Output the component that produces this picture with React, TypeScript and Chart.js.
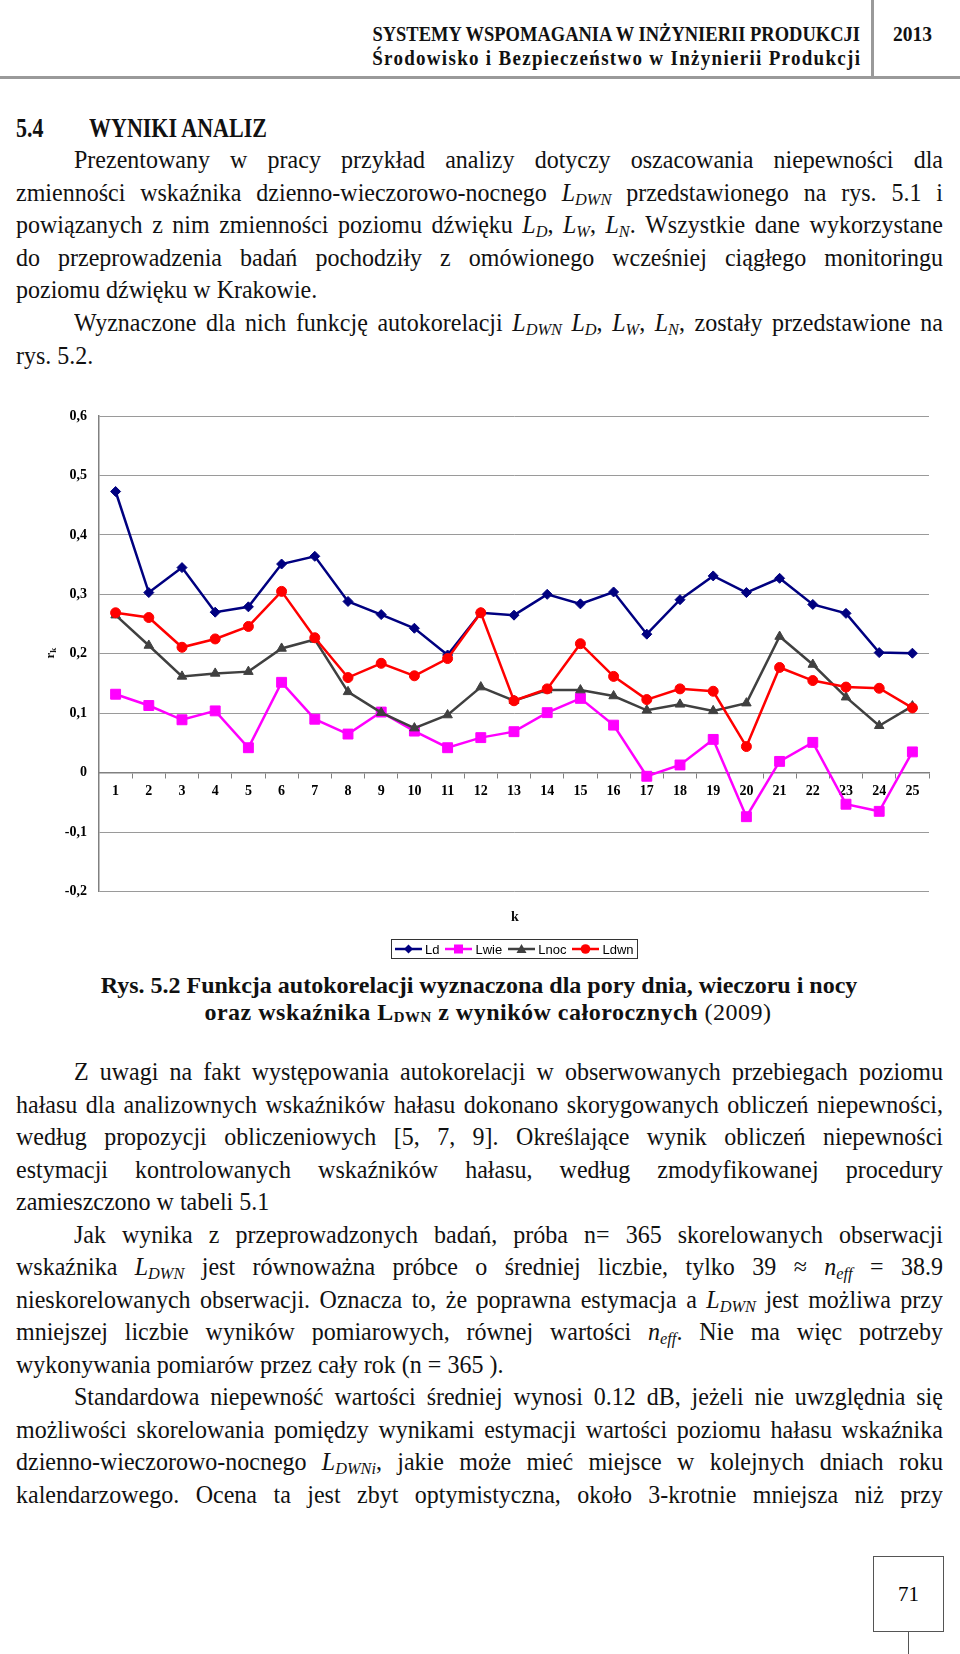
import { useEffect, useRef } from "react"
import { Chart, registerables } from "chart.js"

Chart.register(...registerables)

// dane z wykresu: autokorelacja r_k dla kolejnych opóźnień k
const lags = ["1", "2", "3", "4", "5", "6", "7", "8", "9", "10", "11", "12", "13", "14", "15", "16", "17", "18", "19", "20", "21", "22", "23", "24", "25"]
const ld = [0.473, 0.303, 0.345, 0.27, 0.279, 0.351, 0.364, 0.288, 0.266, 0.243, 0.198, 0.269, 0.265, 0.3, 0.284, 0.304, 0.233, 0.291, 0.331, 0.303, 0.327, 0.283, 0.268, 0.202, 0.201]
const lwie = [0.132, 0.113, 0.089, 0.104, 0.042, 0.152, 0.09, 0.065, 0.102, 0.07, 0.042, 0.059, 0.069, 0.101, 0.125, 0.08, -0.006, 0.013, 0.056, -0.074, 0.019, 0.051, -0.053, -0.065, 0.035]
const lnoc = [0.265, 0.214, 0.162, 0.167, 0.17, 0.209, 0.224, 0.136, 0.101, 0.075, 0.097, 0.144, 0.121, 0.139, 0.139, 0.129, 0.105, 0.115, 0.104, 0.117, 0.229, 0.182, 0.127, 0.079, 0.112]
const ldwn = [0.269, 0.261, 0.211, 0.225, 0.246, 0.305, 0.227, 0.16, 0.184, 0.163, 0.192, 0.269, 0.121, 0.141, 0.217, 0.162, 0.123, 0.141, 0.137, 0.044, 0.177, 0.155, 0.144, 0.142, 0.109]
const yTicks = [-0.2, -0.1, 0, 0.1, 0.2, 0.3, 0.4, 0.5, 0.6]

const seriesNames = ["Ld", "Lwie", "Lnoc", "Ldwn"]
const seriesColors = ["#000080", "#ff00ff", "#404040", "#ff0000"]

const serif = '"Liberation Serif", "Times New Roman", serif'

const topLines: [string, boolean, boolean][] = [
  ["Prezentowany w pracy przykład analizy dotyczy oszacowania niepewności dla", true, true],
  ["zmienności wskaźnika dzienno-wieczorowo-nocnego {L|DWN} przedstawionego na rys. 5.1 i", false, true],
  ["powiązanych z nim zmienności poziomu dźwięku {L|D}, {L|W}, {L|N}. Wszystkie dane wykorzystane", false, true],
  ["do przeprowadzenia badań pochodziły z omówionego wcześniej ciągłego monitoringu", false, true],
  ["poziomu dźwięku w Krakowie.", false, false],
  ["Wyznaczone dla nich funkcję autokorelacji {L|DWN} {L|D}, {L|W}, {L|N}, zostały przedstawione na", true, true],
  ["rys. 5.2.", false, false],
]

const bodyLines: [string, boolean, boolean][] = [
  ["Z uwagi na fakt występowania autokorelacji w obserwowanych przebiegach poziomu", true, true],
  ["hałasu dla analizownych wskaźników hałasu dokonano skorygowanych obliczeń niepewności,", false, true],
  ["według propozycji obliczeniowych [5, 7, 9]. Określające wynik obliczeń niepewności", false, true],
  ["estymacji kontrolowanych wskaźników hałasu, według zmodyfikowanej procedury", false, true],
  ["zamieszczono w tabeli 5.1", false, false],
  ["Jak wynika z przeprowadzonych badań, próba n= 365 skorelowanych obserwacji", true, true],
  ["wskaźnika {L|DWN} jest równoważna próbce o średniej liczbie, tylko 39 ≈ {n|eff} = 38.9", false, true],
  ["nieskorelowanych obserwacji. Oznacza to, że poprawna estymacja a {L|DWN} jest możliwa przy", false, true],
  ["mniejszej liczbie wyników pomiarowych, równej wartości {n|eff}. Nie ma więc potrzeby", false, true],
  ["wykonywania pomiarów przez cały rok (n = 365 ).", false, false],
  ["Standardowa niepewność wartości średniej wynosi 0.12 dB, jeżeli nie uwzględnia się", true, true],
  ["możliwości skorelowania pomiędzy wynikami estymacji wartości poziomu hałasu wskaźnika", false, true],
  ["dzienno-wieczorowo-nocnego {L|DWNi}, jakie może mieć miejsce w kolejnych dniach roku", false, true],
  ["kalendarzowego. Ocena ta jest zbyt optymistyczna, około 3-krotnie mniejsza niż przy", false, true],
]

function rich(text: string) {
  return text.split(/(\{[^}]+\})/).map((p, i) => {
    const m = p.match(/^\{([^|]+)\|([^}]+)\}$/)
    if (m)
      return (
        <i key={i}>
          {m[1]}
          <sub style={{ fontSize: "0.68em", verticalAlign: "-0.25em", lineHeight: 0 }}>{m[2]}</sub>
        </i>
      )
    return p
  })
}

function TextLine({ text, top, indent, justify }: { text: string; top: number; indent: boolean; justify: boolean }) {
  const left = indent ? 74 : 16
  const base: React.CSSProperties = {
    position: "absolute",
    left,
    top,
    width: 943 - left,
    height: 32.5,
    lineHeight: "32.5px",
    whiteSpace: "nowrap",
    transform: "scaleY(1.05)",
    transformOrigin: "0 24px",
  }
  if (!justify) return <div style={base}>{rich(text)}</div>
  return (
    <div style={{ ...base, display: "flex", justifyContent: "space-between" }}>
      {text.split(" ").map((w, i) => (
        <span key={i}>{rich(w)}</span>
      ))}
    </div>
  )
}

function LegendMark({ i }: { i: number }) {
  const c = seriesColors[i]
  return (
    <svg width={27} height={12} style={{ display: "block" }}>
      <line x1={0} y1={6} x2={27} y2={6} stroke={c} strokeWidth={2.5} />
      {i === 0 && <polygon points="13.5,1.5 18,6 13.5,10.5 9,6" fill={c} />}
      {i === 1 && <rect x={9} y={1.5} width={9} height={9} fill={c} />}
      {i === 2 && <polygon points="13.5,1 18.5,10 8.5,10" fill={c} />}
      {i === 3 && <circle cx={13.5} cy={6} r={4.8} fill={c} />}
    </svg>
  )
}

function AutocorrChart() {
  const chartRef = useRef<HTMLCanvasElement>(null)

  useEffect(() => {
    if (!chartRef.current) return
    const tickFont = { family: serif, size: 14, weight: "bold" as const }
    const styles = [
      { pointStyle: "rectRot", pointRadius: 5 },
      { pointStyle: "rect", pointRadius: 7 },
      { pointStyle: "triangle", pointRadius: 5.5 },
      { pointStyle: "circle", pointRadius: 5 },
    ]
    const values = [ld, lwie, lnoc, ldwn]
    const chart = new Chart(chartRef.current, {
      type: "line",
      data: {
        labels: lags,
        datasets: values.map((v, i) => ({
          label: seriesNames[i],
          data: v,
          borderColor: seriesColors[i],
          backgroundColor: seriesColors[i],
          pointBackgroundColor: seriesColors[i],
          pointBorderColor: seriesColors[i],
          pointBorderWidth: 1,
          borderWidth: 2.5,
          tension: 0,
          order: 3 - i,
          ...styles[i],
        })) as any,
      },
      options: {
        animation: false,
        responsive: true,
        maintainAspectRatio: false,
        layout: { padding: { left: 0, right: 31, top: 36, bottom: 10 } },
        plugins: { legend: { display: false }, tooltip: { enabled: false } },
        scales: {
          x: {
            type: "category",
            position: { y: 0 } as any,
            offset: true,
            grid: { offset: true, drawOnChartArea: false, drawTicks: true, tickLength: 5, color: "#808080" },
            border: { display: true, color: "#808080", width: 1.5 },
            ticks: { color: "#000", font: tickFont, padding: 5, maxRotation: 0, autoSkip: false },
          },
          y: {
            min: -0.2,
            max: 0.6,
            afterBuildTicks: (s: any) => {
              s.ticks = yTicks.map((v) => ({ value: v }))
            },
            afterFit: (s: any) => {
              s.width = 99
            },
            grid: { color: "#9a9a9a", lineWidth: 1, drawTicks: false },
            border: { display: true, color: "#808080", width: 1.5 },
            ticks: {
              color: "#000",
              font: tickFont,
              padding: 12,
              callback: (v: any) => (Math.abs(v) < 1e-9 ? "0" : Number(v).toFixed(1).replace(".", ",")),
            },
          },
        },
      },
    })
    return () => chart.destroy()
  }, [])

  return (
    <div style={{ position: "absolute", left: 0, top: 380, width: 960, height: 532 }}>
      <canvas ref={chartRef} />
    </div>
  )
}

export default function App() {
  const headStyle: React.CSSProperties = {
    position: "absolute",
    fontWeight: "bold",
    lineHeight: "24px",
    whiteSpace: "nowrap",
    transform: "scaleY(1.08)",
    transformOrigin: "0 18px",
  }
  return (
    <div
      style={{
        position: "absolute",
        left: 0,
        top: 0,
        width: 960,
        height: 1654,
        overflow: "hidden",
        background: "#fff",
        color: "#111",
        fontFamily: serif,
        fontSize: 24,
      }}
    >
      {/* nagłówek */}
      <div style={{ ...headStyle, right: 100, top: 23, fontSize: 18.5, textAlign: "right" }}>
        SYSTEMY WSPOMAGANIA W INŻYNIERII PRODUKCJI
      </div>
      <div style={{ ...headStyle, right: 100, top: 47, fontSize: 19, letterSpacing: 1.3, marginRight: -1.3, textAlign: "right" }}>
        Środowisko i Bezpieczeństwo w Inżynierii Produkcji
      </div>
      <div style={{ ...headStyle, left: 893, top: 23, fontSize: 19.5 }}>2013</div>
      <div style={{ position: "absolute", left: 871, top: 0, width: 3, height: 79, background: "#9a9a9a" }} />
      <div style={{ position: "absolute", left: 0, top: 76, width: 960, height: 3, background: "#9a9a9a" }} />

      <div style={{ position: "absolute", left: 16, top: 115, fontSize: 22, fontWeight: "bold", lineHeight: "30px", transform: "scaleY(1.2)", transformOrigin: "0 22.4px" }}>5.4</div>
      <div style={{ position: "absolute", left: 89, top: 115, fontSize: 22, fontWeight: "bold", lineHeight: "30px", transform: "scaleY(1.2)", transformOrigin: "0 22.4px" }}>WYNIKI ANALIZ</div>

      {topLines.map(([t, ind, j], i) => (
        <TextLine key={i} text={t} top={144 + i * 32.6} indent={ind} justify={j} />
      ))}

      <AutocorrChart />

      <div style={{ position: "absolute", left: 40, top: 643, width: 20, height: 20, transform: "rotate(-90deg)", fontSize: 13, fontWeight: "bold", lineHeight: "20px", textAlign: "center" }}>
        r<sub style={{ fontSize: "0.7em", verticalAlign: "-0.25em", lineHeight: 0 }}>k</sub>
      </div>
      <div style={{ position: "absolute", left: 505, top: 907, width: 20, textAlign: "center", fontSize: 14, fontWeight: "bold", lineHeight: "20px" }}>k</div>

      <div
        style={{
          position: "absolute",
          left: 391,
          top: 939,
          width: 247,
          height: 20,
          boxSizing: "border-box",
          border: "1px solid #333",
          display: "flex",
          alignItems: "center",
          paddingLeft: 3,
          fontFamily: '"Liberation Sans", Arial, sans-serif',
          fontSize: 13,
          color: "#000",
        }}
      >
        {seriesNames.map((n, i) => (
          <span key={n} style={{ display: "flex", alignItems: "center", marginRight: 6 }}>
            <LegendMark i={i} />
            <span style={{ marginLeft: 3 }}>{n}</span>
          </span>
        ))}
      </div>

      {/* podpis rysunku */}
      <div style={{ position: "absolute", left: 0, width: 960, top: 972, textAlign: "center", fontSize: 24, fontWeight: "bold", lineHeight: "27px", whiteSpace: "nowrap" }}>
        <span style={{ position: "relative", left: -1 }}>Rys. 5.2 Funkcja autokorelacji wyznaczona dla pory dnia, wieczoru i nocy</span>
      </div>
      <div style={{ position: "absolute", left: 0, width: 960, top: 999, textAlign: "center", fontSize: 24, fontWeight: "bold", lineHeight: "27px", whiteSpace: "nowrap", letterSpacing: 0.5 }}>
        <span style={{ position: "relative", left: 8 }}>
          oraz wskaźnika L<sub style={{ fontSize: "0.62em", verticalAlign: "-0.15em", lineHeight: 0 }}>DWN</sub> z wyników całorocznych{" "}
          <span style={{ fontWeight: "normal" }}>(2009)</span>
        </span>
      </div>

      {bodyLines.map(([t, ind, j], i) => (
        <TextLine key={i} text={t} top={1056 + i * 32.5} indent={ind} justify={j} />
      ))}

      {/* numer strony */}
      <div
        style={{
          position: "absolute",
          left: 873,
          top: 1556,
          width: 71,
          height: 76,
          boxSizing: "border-box",
          border: "1px solid #555",
          fontSize: 21,
          lineHeight: "74px",
          textAlign: "center",
          color: "#000",
        }}
      >
        71
      </div>
      <div style={{ position: "absolute", left: 908, top: 1632, width: 1, height: 22, background: "#555" }} />
    </div>
  )
}
